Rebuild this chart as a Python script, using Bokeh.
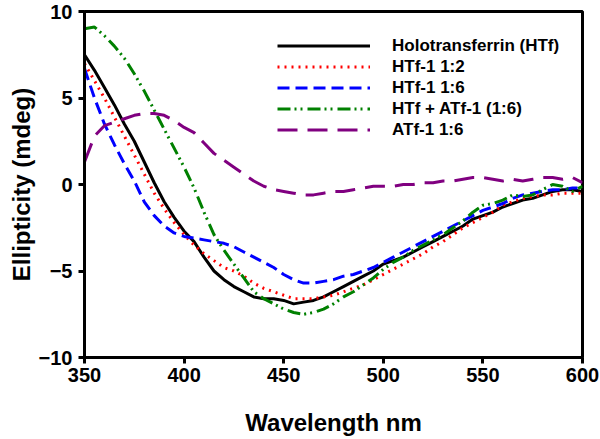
from bokeh.plotting import figure
from bokeh.models import Range1d, FixedTicker, Legend, LegendItem
from bokeh.embed import file_html
from bokeh.resources import INLINE

# ---- data ----
wavelength = list(range(350, 601, 5))

htf = [7.5, 6.6, 5.6, 4.6, 3.5, 2.5, 1.3, 0.1, -1.0, -1.9,
       -2.7, -3.3, -4.2, -5.0, -5.5, -5.9, -6.2, -6.5, -6.6, -6.6,
       -6.7, -6.9, -6.8, -6.7, -6.5, -6.2, -5.9, -5.6, -5.3, -5.0,
       -4.6, -4.4, -4.2, -3.9, -3.6, -3.3, -3.0, -2.7, -2.4, -2.0,
       -1.8, -1.6, -1.3, -1.1, -0.9, -0.8, -0.6, -0.4, -0.3, -0.3, -0.4]

htf1_12 = [7.0, 6.0, 5.0, 3.9, 2.8, 1.7, 0.6, -0.5, -1.4, -2.2,
           -2.9, -3.5, -4.0, -4.4, -4.8, -5.0, -5.3, -5.7, -6.0, -6.2,
           -6.4, -6.6, -6.6, -6.6, -6.5, -6.4, -6.2, -6.0, -5.8, -5.5,
           -5.2, -4.9, -4.6, -4.3, -4.0, -3.6, -3.3, -2.9, -2.5, -2.2,
           -1.9, -1.6, -1.2, -1.0, -0.8, -0.7, -0.6, -0.6, -0.5, -0.5, -0.5]

htf1_16 = [6.7, 5.0, 3.5, 2.3, 1.2, 0.2, -1.0, -1.8, -2.4, -2.8,
           -3.0, -3.1, -3.2, -3.3, -3.4, -3.6, -3.9, -4.2, -4.5, -4.8,
           -5.2, -5.5, -5.7, -5.7, -5.6, -5.5, -5.3, -5.2, -5.0, -4.8,
           -4.5, -4.2, -3.9, -3.6, -3.3, -3.0, -2.7, -2.4, -2.1, -1.8,
           -1.5, -1.3, -1.1, -0.8, -0.6, -0.5, -0.4, -0.3, -0.3, -0.2, -0.2]

htf_atf = [9.0, 9.1, 8.6, 8.0, 7.3, 6.4, 5.4, 4.3, 3.2, 2.1,
           1.0, -0.2, -1.6, -2.9, -3.8, -4.6, -5.4, -6.2, -6.6, -6.9,
           -7.2, -7.4, -7.5, -7.4, -7.2, -6.9, -6.5, -6.2, -5.8, -5.4,
           -4.9, -4.5, -4.2, -3.8, -3.5, -3.2, -2.9, -2.5, -2.1, -1.6,
           -1.2, -1.1, -0.9, -0.6, -0.7, -0.6, -0.3, 0.0, -0.1, -0.4, -0.1]

atf1_16 = [1.3, 2.8, 3.4, 3.6, 3.8, 4.0, 4.1, 4.1, 4.0, 3.7,
           3.3, 3.0, 2.4, 1.8, 1.4, 1.0, 0.6, 0.2, -0.1, -0.3,
           -0.4, -0.5, -0.6, -0.6, -0.5, -0.4, -0.4, -0.3, -0.2, -0.1,
           -0.1, -0.1, 0.0, 0.0, 0.1, 0.1, 0.2, 0.2, 0.3, 0.4,
           0.4, 0.3, 0.2, 0.3, 0.2, 0.3, 0.4, 0.4, 0.3, 0.4, 0.1]

labels = ["Holotransferrin (HTf)", "HTf-1 1:2", "HTf-1 1:6",
          "HTf + ATf-1 (1:6)", "ATf-1 1:6"]
x_ticks = [350, 400, 450, 500, 550, 600]
y_ticks = [-10, -5, 0, 5, 10]

FONT = "Liberation Sans"

p = figure(width=600, height=439, output_backend="svg", toolbar_location=None,
           x_range=Range1d(350, 600), y_range=Range1d(-10, 10),
           min_border_left=84, min_border_right=18, min_border_top=11,
           min_border_bottom=82)
p.background_fill_color = "white"
p.border_fill_color = "white"
p.outline_line_color = "black"
p.outline_line_width = 3
p.outline_line_alpha = 1
p.grid.visible = False

for ax in (p.xaxis[0], p.yaxis[0]):
    ax.axis_line_width = 3
    ax.major_tick_line_width = 3
    ax.major_tick_out = 6
    ax.major_tick_in = 0
    ax.minor_tick_line_color = None
    ax.major_label_text_font = FONT
    ax.major_label_text_font_style = "bold"
    ax.major_label_text_font_size = "20px"
    ax.major_label_text_color = "black"
    ax.axis_label_text_font = FONT
    ax.axis_label_text_font_style = "bold"
    ax.axis_label_text_font_size = "24px"
    ax.axis_label_text_color = "black"

p.xaxis.ticker = FixedTicker(ticks=x_ticks)
p.yaxis.ticker = FixedTicker(ticks=y_ticks)
p.xaxis.axis_label = "Wavelength nm"
p.yaxis.axis_label = "Ellipticity (mdeg)"
p.xaxis.major_label_standoff = 4
p.yaxis.major_label_standoff = 6
p.xaxis.axis_label_standoff = 24
p.yaxis.axis_label_standoff = 1

series = [htf, htf1_12, htf1_16, htf_atf, atf1_16]
colors = ["black", "#FF0000", "#0000FF", "#008000", "#800080"]
dashes = ["solid", "2 5", "12 6", "13 4 2 4 2 5", "20 10"]

items = []
for ys, c, d, lab in zip(series, colors, dashes, labels):
    r = p.line(wavelength, ys, line_color=c, line_width=3, line_dash=d)
    items.append(LegendItem(label=lab, renderers=[r]))

legend = Legend(items=items, location=(193, 217))
legend.border_line_alpha = 0
legend.background_fill_alpha = 0
legend.padding = 0
legend.margin = 0
legend.spacing = 0
legend.glyph_width = 93
legend.glyph_height = 21
legend.label_height = 21
legend.label_standoff = 22
legend.label_text_font = FONT
legend.label_text_font_style = "bold"
legend.label_text_font_size = "17px"
legend.label_text_color = "black"
p.add_layout(legend)

open("out.html", "w").write(file_html(p, INLINE))
